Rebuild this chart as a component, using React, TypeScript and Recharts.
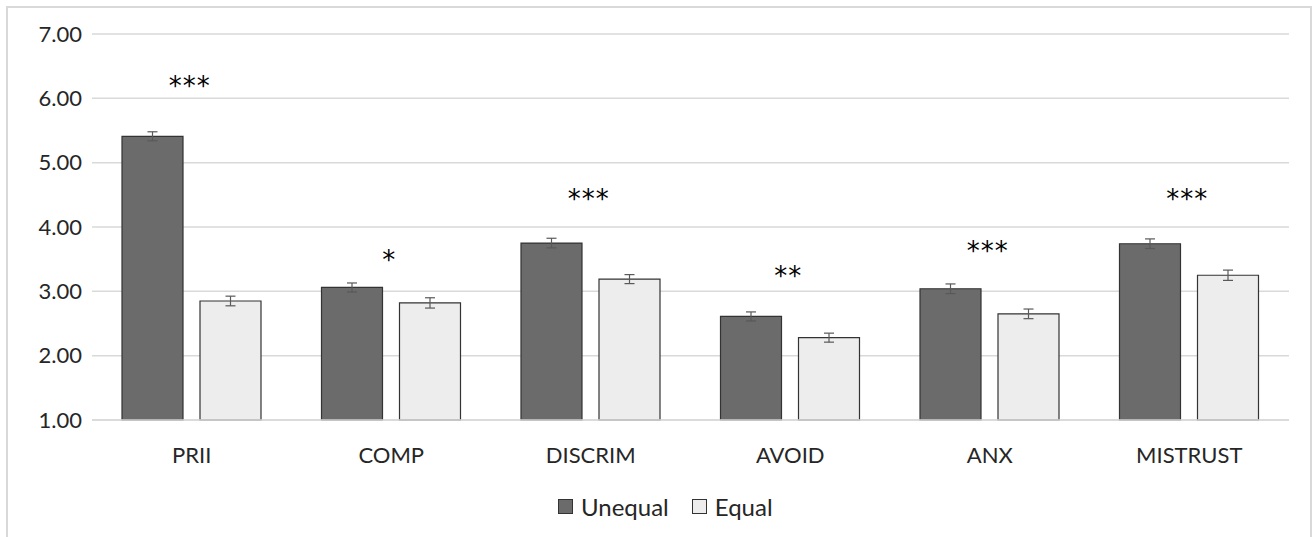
import React from 'react';
import {
  ComposedChart,
  Bar,
  Line,
  ErrorBar,
  XAxis,
  YAxis,
  CartesianGrid,
  Legend
} from 'recharts';

const categories = ['PRII', 'COMP', 'DISCRIM', 'AVOID', 'ANX', 'MISTRUST'];
const unequal = [5.41, 3.06, 3.75, 2.61, 3.04, 3.74];
const unequalErr = [0.07, 0.07, 0.075, 0.07, 0.075, 0.075];
const equal = [2.85, 2.82, 3.19, 2.28, 2.65, 3.25];
const equalErr = [0.075, 0.08, 0.07, 0.07, 0.075, 0.08];
const sigLabels = ['***', '*', '***', '**', '***', '***'];
const sigLevel = [6.24, 3.53, 4.48, 3.29, 3.67, 4.48];
const yTicks = [1, 2, 3, 4, 5, 6, 7];

const data = categories.map((name, i) => ({
  name,
  unequal: unequal[i],
  unequalErr: unequalErr[i],
  equal: equal[i],
  equalErr: equalErr[i],
  sig: sigLevel[i]
}));

const FONT = 'Lato, "Open Sans", sans-serif';
const TEXT = '#262626';

const renderStars = (props: any) => {
  const { x, y, index } = props;
  return (
    <text
      key={`sig-${index}`}
      x={x - 2}
      y={y}
      dy={12}
      textAnchor="middle"
      fontFamily='"DejaVu Sans", sans-serif'
      fontSize={26}
      letterSpacing={1}
      fill="#000"
    >
      {sigLabels[index]}
    </text>
  );
};

const renderLegend = () => (
  <div
    style={{
      display: 'flex',
      justifyContent: 'flex-start',
      alignItems: 'center',
      paddingLeft: 558,
      fontFamily: FONT,
      fontSize: 24,
      color: TEXT,
      height: 32
    }}
  >
    <span style={{ display: 'flex', alignItems: 'center', marginRight: 23 }}>
      <span style={{ width: 13, height: 13, background: '#6b6b6b', border: '1px solid #333', marginRight: 8 }} />
      Unequal
    </span>
    <span style={{ display: 'flex', alignItems: 'center' }}>
      <span style={{ width: 13, height: 13, background: '#ededed', border: '1px solid #333', marginRight: 8 }} />
      Equal
    </span>
  </div>
);

const App: React.FC = () => {
  return (
    <div style={{ position: 'fixed', left: 0, top: 0, width: 1314, height: 537, background: '#fff', overflow: 'hidden' }}>
      {/* chart frame */}
      <div
        style={{
          position: 'absolute',
          left: 6,
          top: 6,
          width: 1302,
          height: 560,
          border: '2px solid #d9d9d9'
        }}
      />
      <div style={{ position: 'absolute', left: 0, top: 0 }}>
        <ComposedChart
          width={1314}
          height={537}
          data={data}
          margin={{ top: 34, right: 25, left: 0, bottom: 30 }}
          barCategoryGap={30}
          barGap={17}
        >
          <CartesianGrid vertical={false} stroke="#d9d9d9" strokeWidth={1.5} />
          <XAxis
            dataKey="name"
            tickLine={false}
            axisLine={{ stroke: '#d9d9d9', strokeWidth: 1.5 }}
            tickMargin={21}
            height={55}
            tick={{ fontFamily: FONT, fontSize: 22, fill: TEXT }}
          />
          <YAxis
            width={92}
            domain={[1, 7]}
            ticks={yTicks}
            interval={0}
            tickLine={false}
            axisLine={false}
            tickMargin={4}
            tickFormatter={(v: number) => v.toFixed(2)}
            tick={{ fontFamily: FONT, fontSize: 22, fill: TEXT }}
          />
          <Legend
            verticalAlign="bottom"
            height={32}
            content={renderLegend}
            wrapperStyle={{ top: 490, bottom: 'auto', left: 0, width: 1314 }}
          />
          <Bar dataKey="unequal" name="Unequal" fill="#6b6b6b" stroke="#333" strokeWidth={1.2} isAnimationActive={false}>
            <ErrorBar dataKey="unequalErr" width={5} stroke="#595959" strokeWidth={1.2} />
          </Bar>
          <Bar dataKey="equal" name="Equal" fill="#ededed" stroke="#333" strokeWidth={1.2} isAnimationActive={false}>
            <ErrorBar dataKey="equalErr" width={5} stroke="#595959" strokeWidth={1.2} />
          </Bar>
          <Line
            dataKey="sig"
            stroke="none"
            dot={false}
            activeDot={false}
            legendType="none"
            label={renderStars}
            isAnimationActive={false}
          />
        </ComposedChart>
      </div>
    </div>
  );
};

export default App;
